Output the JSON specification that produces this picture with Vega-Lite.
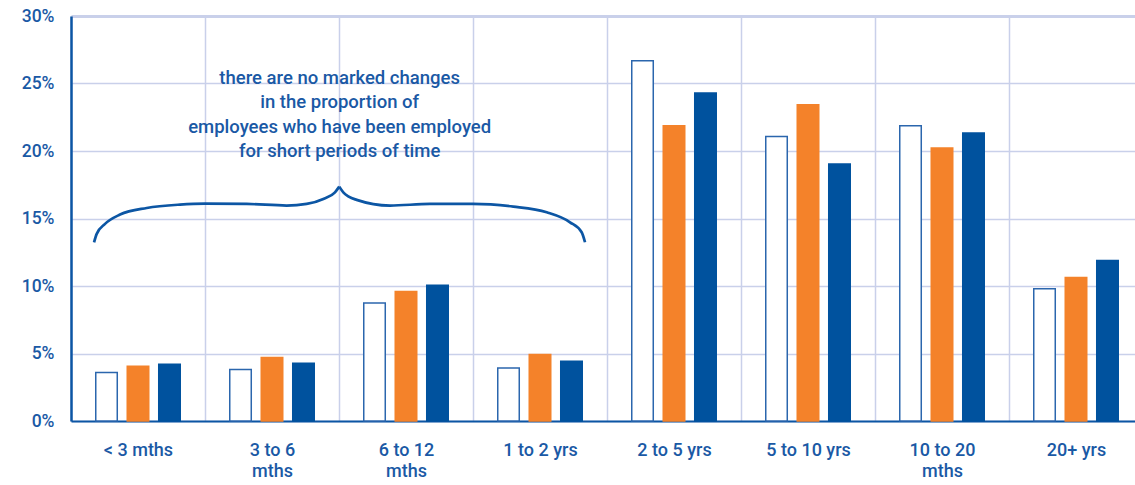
{
  "$schema": "https://vega.github.io/schema/vega-lite/v6.json",
  "width": 1064,
  "height": 405,
  "autosize": {"type": "none"},
  "padding": {"left": 71, "top": 16, "right": 0, "bottom": 64},
  "background": "white",
  "config": {"view": {"stroke": null}, "font": "Roboto"},
  "datasets": {
    "bars": [
      {"tenure": "< 3 mths", "series": "Series 1", "pct": 3.6},
      {"tenure": "< 3 mths", "series": "Series 2", "pct": 4.05},
      {"tenure": "< 3 mths", "series": "Series 3", "pct": 4.2},
      {"tenure": "3 to 6 mths", "series": "Series 1", "pct": 3.82},
      {"tenure": "3 to 6 mths", "series": "Series 2", "pct": 4.7},
      {"tenure": "3 to 6 mths", "series": "Series 3", "pct": 4.27},
      {"tenure": "6 to 12 mths", "series": "Series 1", "pct": 8.75},
      {"tenure": "6 to 12 mths", "series": "Series 2", "pct": 9.6},
      {"tenure": "6 to 12 mths", "series": "Series 3", "pct": 10.06},
      {"tenure": "1 to 2 yrs", "series": "Series 1", "pct": 3.92},
      {"tenure": "1 to 2 yrs", "series": "Series 2", "pct": 4.93},
      {"tenure": "1 to 2 yrs", "series": "Series 3", "pct": 4.42},
      {"tenure": "2 to 5 yrs", "series": "Series 1", "pct": 26.68},
      {"tenure": "2 to 5 yrs", "series": "Series 2", "pct": 21.87},
      {"tenure": "2 to 5 yrs", "series": "Series 3", "pct": 24.29},
      {"tenure": "5 to 10 yrs", "series": "Series 1", "pct": 21.08},
      {"tenure": "5 to 10 yrs", "series": "Series 2", "pct": 23.42},
      {"tenure": "5 to 10 yrs", "series": "Series 3", "pct": 19.04},
      {"tenure": "10 to 20 mths", "series": "Series 1", "pct": 21.87},
      {"tenure": "10 to 20 mths", "series": "Series 2", "pct": 20.22},
      {"tenure": "10 to 20 mths", "series": "Series 3", "pct": 21.33},
      {"tenure": "20+ yrs", "series": "Series 1", "pct": 9.8},
      {"tenure": "20+ yrs", "series": "Series 2", "pct": 10.63},
      {"tenure": "20+ yrs", "series": "Series 3", "pct": 11.88}
    ],
    "brace": [
      {"half": "L", "u": 0.172, "pct": 13.24},
      {"half": "L", "u": 0.192, "pct": 13.86},
      {"half": "L", "u": 0.254, "pct": 14.6},
      {"half": "L", "u": 0.366, "pct": 15.29},
      {"half": "L", "u": 0.565, "pct": 15.78},
      {"half": "L", "u": 0.813, "pct": 16.03},
      {"half": "L", "u": 1.0, "pct": 16.1},
      {"half": "L", "u": 1.311, "pct": 16.08},
      {"half": "L", "u": 1.609, "pct": 15.96},
      {"half": "L", "u": 1.759, "pct": 16.08},
      {"half": "L", "u": 1.883, "pct": 16.45},
      {"half": "L", "u": 1.97, "pct": 16.94},
      {"half": "L", "u": 2.002, "pct": 17.36},
      {"half": "R", "u": 2.002, "pct": 17.36},
      {"half": "R", "u": 2.032, "pct": 16.94},
      {"half": "R", "u": 2.132, "pct": 16.38},
      {"half": "R", "u": 2.381, "pct": 15.96},
      {"half": "R", "u": 2.679, "pct": 16.08},
      {"half": "R", "u": 2.999, "pct": 16.08},
      {"half": "R", "u": 3.301, "pct": 15.88},
      {"half": "R", "u": 3.55, "pct": 15.46},
      {"half": "R", "u": 3.724, "pct": 14.72},
      {"half": "R", "u": 3.811, "pct": 13.98},
      {"half": "R", "u": 3.836, "pct": 13.24}
    ],
    "note": [
      {"u": 2.005, "pct": 25.44, "text": "there are no marked changes\nin the proportion of\nemployees who have been employed\nfor short periods of time"}
    ]
  },
  "layer": [
    {
      "data": {"name": "bars"},
      "mark": {"type": "bar", "strokeWidth": 1.5},
      "encoding": {
        "x": {
          "field": "tenure", "type": "nominal", "sort": null,
          "scale": {"range": [0, 1072], "paddingInner": 0, "paddingOuter": 0},
          "axis": {
            "title": null, "orient": "bottom",
            "domainColor": "#0c56a4", "domainWidth": 2,
            "ticks": false, "tickBand": "extent",
            "grid": true, "gridColor": "#c9d0ea", "gridWidth": 1.5,
            "labelAngle": 0, "labelFontSize": 18, "labelFont": "Roboto", "labelFontWeight": 500,
            "labelColor": "#1a59a5", "labelPadding": 20, "labelLineHeight": 21, "labelBaseline": "top",
            "labelExpr": "indexof(datum.label, ' to ') >= 0 && indexof(datum.label, 'mths') >= 0 ? [replace(datum.label, ' mths', ''), 'mths'] : datum.label"
          }
        },
        "xOffset": {
          "field": "series", "type": "nominal", "sort": null,
          "scale": {"paddingInner": 0.317, "paddingOuter": 0.786}
        },
        "y": {
          "field": "pct", "type": "quantitative",
          "scale": {"domain": [0, 30], "nice": false},
          "axis": {
            "title": null, "values": [0, 5, 10, 15, 20, 25, 30],
            "domainColor": "#0c56a4", "domainWidth": 2.5,
            "ticks": false, "grid": true, "gridColor": "#c9d0ea",
            "gridWidth": {"condition": {"test": "datum.value >= 30", "value": 3}, "value": 1.5},
            "labelExpr": "datum.value + '%'",
            "labelFontSize": 17.5, "labelFont": "Roboto", "labelFontWeight": 500,
            "labelColor": "#1a59a5", "labelPadding": 17
          }
        },
        "fill": {
          "field": "series", "type": "nominal", "sort": null,
          "scale": {"domain": ["Series 1", "Series 2", "Series 3"], "range": ["#ffffff", "#f4822a", "#00529e"]},
          "legend": null
        },
        "stroke": {
          "field": "series", "type": "nominal", "sort": null,
          "scale": {"domain": ["Series 1", "Series 2", "Series 3"], "range": ["#2b66ad", "#f4822a", "#00529e"]},
          "legend": null
        }
      }
    },
    {
      "data": {"name": "brace"},
      "mark": {"type": "line", "interpolate": "monotone", "stroke": "#0c56a4", "strokeWidth": 2.7},
      "encoding": {
        "x": {"field": "u", "type": "quantitative", "scale": {"domain": [0, 8], "range": [0, 1072], "nice": false, "zero": false}, "axis": null},
        "y": {"field": "pct", "type": "quantitative"},
        "detail": {"field": "half", "type": "nominal"}
      }
    },
    {
      "data": {"name": "note"},
      "mark": {"type": "text", "lineBreak": "\n", "align": "center", "baseline": "middle", "fontSize": 18.5, "fontWeight": 500, "font": "Roboto", "color": "#1a59a5", "lineHeight": 24.5},
      "encoding": {
        "x": {"field": "u", "type": "quantitative", "scale": {"domain": [0, 8], "range": [0, 1072], "nice": false, "zero": false}, "axis": null},
        "y": {"field": "pct", "type": "quantitative"},
        "text": {"field": "text"}
      }
    }
  ],
  "resolve": {"scale": {"x": "independent"}}
}
